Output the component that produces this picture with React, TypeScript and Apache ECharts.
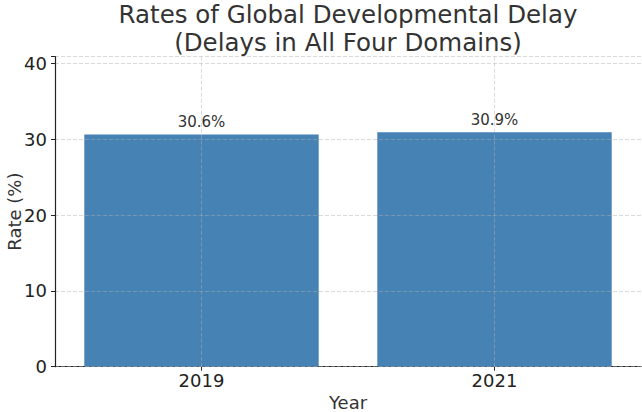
import React, { useEffect, useRef } from "react";
import * as echarts from "echarts";

const years = ["2019", "2021"];
const rates = [30.6, 30.9];
const yTicks = [0, 10, 20, 30, 40];

const FONT = "DejaVu Sans";

export default function App() {
  const ref = useRef<HTMLDivElement>(null);
  useEffect(() => {
    const chart = echarts.init(ref.current!, null, { renderer: "svg" });
    const gridColor = "rgba(176,176,176,0.6)";
    const titleStyle = {
      fontFamily: FONT,
      fontSize: 24.5,
      fontWeight: "normal",
      color: "#333333",
      lineHeight: 22,
    };
    chart.setOption({
      animation: false,
      title: {
        text: "Rates of Global Developmental Delay",
        subtext: "(Delays in All Four Domains)",
        left: 348,
        textAlign: "center",
        top: 3,
        padding: 0,
        itemGap: 3,
        textStyle: titleStyle,
        subtextStyle: titleStyle,
      },
      grid: { left: 55, right: 1, top: 56.5, bottom: 45.3, outerBoundsMode: "none" },
      xAxis: {
        type: "category",
        data: years,
        name: "Year",
        nameLocation: "middle",
        nameGap: 27,
        nameMoveOverlap: false,
        nameTextStyle: { fontFamily: FONT, fontSize: 18, color: "#333333" },
        axisLine: { show: true, lineStyle: { color: "#222222", width: 1.2 } },
        axisTick: { show: true, alignWithLabel: true, length: 4, lineStyle: { color: "#222222" } },
        axisLabel: { fontFamily: FONT, fontSize: 18, color: "#222222", margin: 5 },
        splitLine: { show: false },
      },
      yAxis: {
        type: "value",
        min: 0,
        max: 40.9,
        interval: 10,
        z: 5,
        name: "Rate (%)",
        nameLocation: "middle",
        nameGap: 32,
        nameMoveOverlap: false,
        nameRotate: 90,
        nameTextStyle: { fontFamily: FONT, fontSize: 18, color: "#333333" },
        axisLine: { show: true, lineStyle: { color: "#222222", width: 1.2 } },
        axisTick: { show: true, length: 4, lineStyle: { color: "#222222" } },
        axisLabel: {
          fontFamily: FONT,
          fontSize: 18,
          color: "#222222",
          margin: 8,
          formatter: (v: number) => (yTicks.includes(v) ? String(v) : ""),
        },
        splitLine: { show: true, lineStyle: { color: gridColor, type: [4, 2], width: 0.8 } },
      },
      series: [
        {
          type: "bar",
          data: rates,
          barWidth: "80%",
          itemStyle: { color: "#4682B4" },
          label: {
            show: true,
            position: "top",
            distance: 5,
            formatter: (p: any) => `${p.value}%`,
            fontFamily: FONT,
            fontSize: 15,
            color: "#333333",
          },
          markLine: {
            silent: true,
            symbol: "none",
            label: { show: false },
            lineStyle: { color: gridColor, type: [4, 2], width: 0.8 },
            data: years.map((y) => ({ xAxis: y })),
          },
        },
      ],
    });
    return () => chart.dispose();
  }, []);
  return <div ref={ref} style={{ width: 642, height: 412, position: "absolute", left: 0, top: 0 }} />;
}
